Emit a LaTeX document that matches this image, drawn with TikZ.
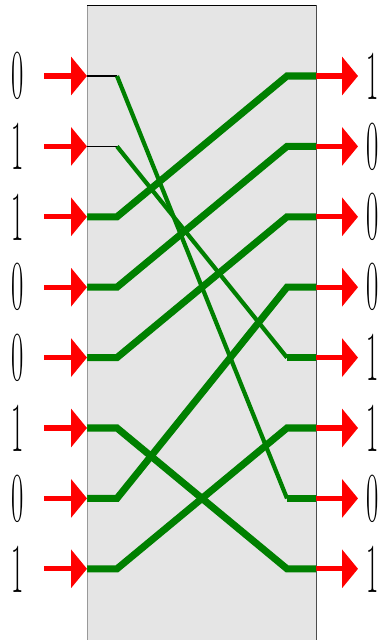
\documentclass[tikz,border=0pt]{standalone}
\usetikzlibrary{arrows.meta}

\tikzset{
  bit/.style={xscale=0.38, font=\fontsize{40}{40}\selectfont, inner sep=0pt},
  redarrow/.style={->, red, line width=3pt},
  wirethick/.style={green!50!black, line width=4pt},
  wirethin/.style={green!50!black, line width=2.4pt},
  wirestub/.style={black, line width=0.6pt}
}

\begin{document}
\begin{tikzpicture}[x=0.02cm, y=-0.02cm, >={Triangle[length=0.32cm, width=0.76cm]}]
  \useasboundingbox (0,0) rectangle (384,640);

  % box
  \fill[gray!20] (87,5) rectangle (316,640);
  \draw[gray!80] (87,640) -- (87,5);
  \draw[black] (87,5) -- (316,5);
  \draw[gray!60!black] (316,5) -- (316,640);

  % rows
  \foreach \i in {0,...,7} {
    \pgfmathsetmacro{\yy}{76+70.4*\i}
    \coordinate (s\i) at (44,\yy);
    \coordinate (in\i) at (87,\yy);
    \coordinate (a\i) at (117,\yy);
    \coordinate (b\i) at (287,\yy);
    \coordinate (out\i) at (316,\yy);
    \coordinate (t\i) at (358,\yy);
  }

  % input bits
  \foreach \b [count=\i from 0] in {0,1,1,0,0,1,0,1}
    \node[bit] (d\i) at (18,76+70.4*\i) {\b};
  % output bits
  \foreach \b [count=\i from 0] in {1,0,0,0,1,1,0,1}
    \node[bit] (e\i) at (373,76+70.4*\i) {\b};

  % arrows
  \foreach \i in {0,...,7} {
    \draw[redarrow] (s\i) -- (in\i);
    \draw[redarrow] (out\i) -- (t\i);
  }

  % thick wires
  \foreach \p/\q in {2/0,3/1,4/2,5/7,6/3,7/5}
    \draw[wirethick] (in\p) -- (a\p) -- (b\q) -- (out\q);

  % thin wires
  \foreach \p/\q in {0/6,1/4} {
    \draw[wirestub] (in\p) -- (a\p);
    \draw[wirethin] (a\p) -- (b\q);
    \draw[wirethick] (b\q) -- (out\q);
  }
\end{tikzpicture}
\end{document}
